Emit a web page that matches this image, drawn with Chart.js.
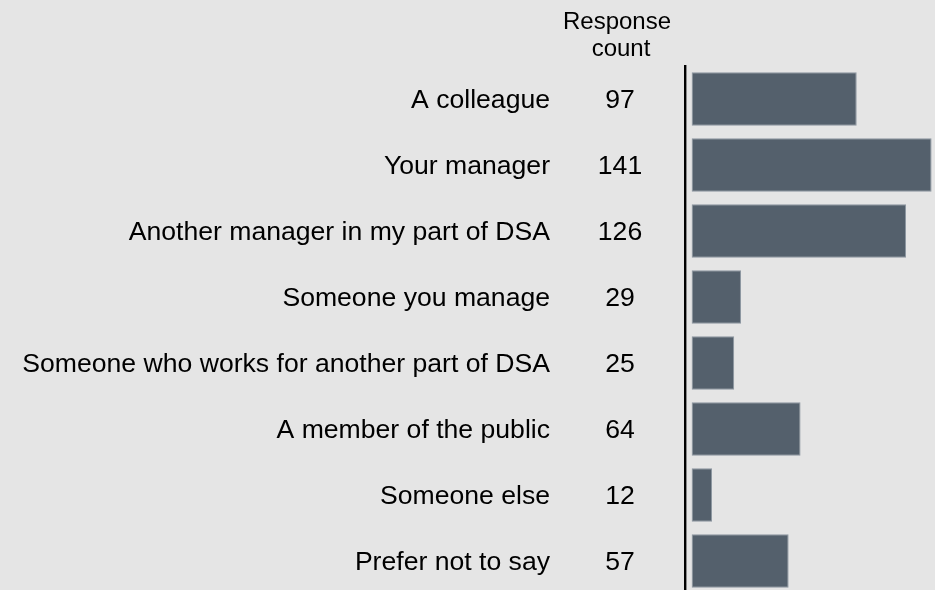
<!DOCTYPE html>
<html>
<head>
<meta charset="utf-8">
<script src="https://cdn.jsdelivr.net/npm/chart.js@4/dist/chart.umd.min.js"></script>
<style>
  html, body { margin:0; padding:0; background:#e5e5e5; overflow:hidden; }
  #wrap { position:relative; width:935px; height:600px; }
</style>
</head>
<body>
<div id="wrap"><canvas id="chart"></canvas></div>
<script>
// data
const categories = [
  'A colleague',
  'Your manager',
  'Another manager in my part of DSA',
  'Someone you manage',
  'Someone who works for another part of DSA',
  'A member of the public',
  'Someone else',
  'Prefer not to say'
];
const responseCounts = [97, 141, 126, 29, 25, 64, 12, 57];
const headerLines = ['Response', 'count'];

const FONT = '"Liberation Sans", Arial, Helvetica, sans-serif';

// count column + header, drawn next to each category
const countColumn = {
  id: 'countColumn',
  afterDraw(chart){
    const ctx = chart.ctx;
    const y = chart.scales.y;
    ctx.save();
    ctx.fillStyle = '#000';
    ctx.textAlign = 'center';
    ctx.font = '24px ' + FONT;
    ctx.textBaseline = 'alphabetic';
    ctx.fillText(headerLines[0], 617, 29);
    ctx.fillText(headerLines[1], 621, 56);
    ctx.font = '26.6px ' + FONT;
    ctx.textBaseline = 'middle';
    responseCounts.forEach((v,i)=>{
      ctx.fillText(String(v), 620, y.getPixelForValue(i) + 2);
    });
    ctx.restore();
  }
};

const ctx = document.getElementById('chart').getContext('2d');
new Chart(ctx, {
  type: 'bar',
  data: {
    labels: categories,
    datasets: [{
      data: responseCounts,
      backgroundColor: '#54606c',
      borderColor: '#8c96a0',
      borderWidth: 1,
      borderSkipped: false,
      barPercentage: 0.81,
      categoryPercentage: 1
    }]
  },
  options: {
    indexAxis: 'y',
    responsive: true,
    maintainAspectRatio: false,
    animation: false,
    layout: { padding: { top: 66, bottom: 6, left: 0, right: 0 } },
    plugins: { legend: { display: false }, tooltip: { enabled: false } },
    scales: {
      x: {
        display: false,
        min: -3.9,
        max: 143
      },
      y: {
        grid: { display: false, drawTicks: false },
        border: { display: true, color: '#000', width: 2.4 },
        ticks: {
          color: '#000',
          padding: 135,
          labelOffset: 2,
          font: { family: FONT, size: 26.6 }
        },
        afterFit(scale){
          scale.width = 685;
          // tick padding otherwise gets added above/below the axis
          scale.paddingTop = 0;
          scale.paddingBottom = 0;
        }
      }
    }
  },
  plugins: [countColumn]
});
</script>
</body>
</html>
